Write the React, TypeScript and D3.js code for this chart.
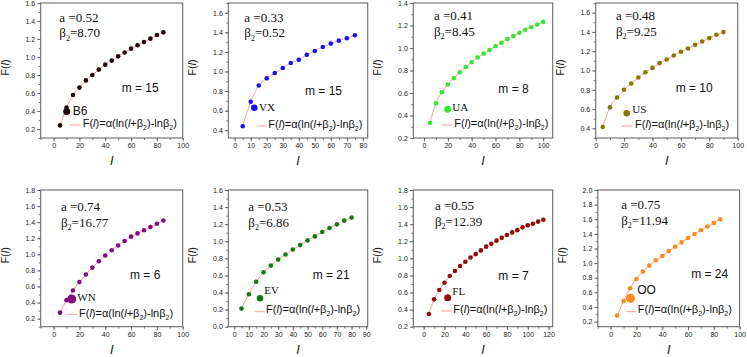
import React, { useEffect, useRef } from "react";
import * as d3 from "d3";

// l values and F(l)
const lB6 = [5, 10, 15, 20, 25, 30, 35, 40, 45, 50, 55, 60, 65, 70, 75, 80, 85];
const fB6 = [0.24, 0.437, 0.578, 0.66, 0.74, 0.8, 0.86, 0.915, 0.96, 1.007, 1.05, 1.093, 1.13, 1.167, 1.204, 1.244, 1.274];

const lVX = [5, 10, 15, 20, 25, 30, 35, 40, 45, 50, 55, 60, 65, 70, 75];
const fVX = [0.44, 0.69, 0.856, 0.93, 0.985, 1.036, 1.087, 1.12, 1.17, 1.21, 1.25, 1.285, 1.315, 1.34, 1.37];

const lUA = [5, 10, 15, 20, 25, 30, 35, 40, 45, 50, 55, 60, 65, 70, 75, 80, 85, 90, 95, 100];
const fUA = [0.335, 0.509, 0.606, 0.676, 0.732, 0.785, 0.83, 0.874, 0.915, 0.95, 0.982, 1.015, 1.047, 1.08, 1.106, 1.135, 1.162, 1.185, 1.209, 1.232];

const lUS = [5, 10, 15, 20, 25, 30, 35, 40, 45, 50, 55, 60, 65, 70, 75, 80, 85, 90];
const fUS = [0.414, 0.618, 0.72, 0.8, 0.865, 0.927, 0.982, 1.027, 1.076, 1.114, 1.156, 1.194, 1.228, 1.266, 1.3, 1.336, 1.37, 1.398];

const lWN = [5, 10, 15, 20, 25, 30, 35, 40, 45, 50, 55, 60, 65, 70, 75, 80, 85];
const fWN = [0.275, 0.43, 0.55, 0.656, 0.75, 0.835, 0.914, 0.985, 1.05, 1.11, 1.165, 1.22, 1.26, 1.3, 1.34, 1.38, 1.42];

const lEV = [5, 10, 15, 20, 25, 30, 35, 40, 45, 50, 55, 60, 65, 70, 75, 80];
const fEV = [0.212, 0.38, 0.526, 0.636, 0.715, 0.786, 0.845, 0.904, 0.955, 1.01, 1.057, 1.108, 1.155, 1.198, 1.242, 1.277];

const lFL = [5, 10, 15, 20, 25, 30, 35, 40, 45, 50, 55, 60, 65, 70, 75, 80, 85, 90, 95, 100, 105, 110, 115];
const fFL = [0.348, 0.52, 0.629, 0.715, 0.793, 0.852, 0.91, 0.96, 1.01, 1.05, 1.093, 1.137, 1.17, 1.207, 1.24, 1.273, 1.304, 1.33, 1.363, 1.386, 1.405, 1.43, 1.452];

const lOO = [5, 10, 15, 20, 25, 30, 35, 40, 45, 50, 55, 60, 65, 70, 75, 80, 85];
const fOO = [0.282, 0.48, 0.655, 0.783, 0.883, 0.965, 1.038, 1.097, 1.166, 1.225, 1.284, 1.343, 1.398, 1.45, 1.5, 1.55, 1.6];

const names = ["B6", "VX", "UA", "US", "WN", "EV", "FL", "OO"];
const alphas = ["0.52", "0.33", "0.41", "0.48", "0.74", "0.53", "0.55", "0.75"];
const betas = ["8.70", "0.52", "8.45", "9.25", "16.77", "6.86", "12.39", "11.94"];
const ms = ["15", "15", "8", "10", "6", "21", "7", "24"];
const series = [
  [lB6, fB6], [lVX, fVX], [lUA, fUA], [lUS, fUS],
  [lWN, fWN], [lEV, fEV], [lFL, fFL], [lOO, fOO],
];
const xDomains = [[-10, 100], [-4, 83], [-9, 108], [0, 100], [-10, 100], [-4, 91], [-10, 124], [-10, 100]];
const yDomains = [[0.1, 1.6], [0.32, 1.7], [0.2, 1.4], [0.3, 1.7], [0.1, 1.8], [0, 1.6], [0.2, 1.8], [0.13, 2.0]];
const xSteps = [20, 10, 20, 20, 20, 10, 20, 20];

const colors = ["#1c0808", "#1414f0", "#33e833", "#877600", "#820a82", "#107a10", "#930b0b", "#ff8a1c"];
const serifName = [false, true, true, true, true, true, true, false];
const fitColor = "#ff9c9c";

// plot boxes and text offsets (relative to plot box)
const layout = [
  { x: 40.7, y: 3, w: 142, h: 135, a: [18.6, 18.6], m: [81, 88.6], dot: [26, 108.6, 3.5], nm: [32, 112], ln: [29.3, 39.3, 122], ft: [42, 124.3] },
  { x: 228.3, y: 3, w: 139.4, h: 135, a: [16, 18.7], m: [76.7, 92], dot: [26, 104.7, 3.3], nm: [30.7, 108], ln: [28.4, 38.4, 123], ft: [40, 125.3] },
  { x: 413.3, y: 3, w: 139.4, h: 135, a: [20.7, 17], m: [85, 89.7], dot: [34.4, 106.3, 3.5], nm: [39, 108], ln: [28.4, 38.4, 122], ft: [41, 124.3] },
  { x: 595.7, y: 3, w: 142, h: 135, a: [20.3, 17], m: [80, 88.7], dot: [31, 110.3, 3.3], nm: [36.6, 109.7], ln: [26, 36.6, 123], ft: [39.3, 125.3] },
  { x: 40.7, y: 190, w: 142, h: 136.7, a: [20.3, 21], m: [89.3, 89], dot: [31, 109, 4.5], nm: [36.6, 111], ln: [26, 36.6, 124.3], ft: [38.3, 126.7] },
  { x: 228.3, y: 190, w: 139.4, h: 136.7, a: [20, 21], m: [84.4, 89], dot: [31.7, 108.3, 3.3], nm: [36, 104.3], ln: [26.7, 36.7, 121.7], ft: [37.7, 123.3] },
  { x: 413.3, y: 190, w: 139.4, h: 136.7, a: [21.7, 20], m: [85, 90], dot: [34.4, 107.7, 3.5], nm: [39, 105], ln: [28.4, 38.4, 121], ft: [40, 123.3] },
  { x: 597.8, y: 190, w: 141.8, h: 136.7, a: [23.4, 19], m: [93.4, 87.7], dot: [32.7, 108.3, 4.5], nm: [39.4, 104.3], ln: [28.4, 38.4, 121.7], ft: [40, 123.3] },
];

const SANS = "'Liberation Sans', Arial, sans-serif";
const SERIF = "'Liberation Serif', 'Times New Roman', serif";

const App = () => {
  const svgRef = useRef<SVGSVGElement>(null);

  useEffect(() => {
    const svg = d3.select(svgRef.current);
    svg.selectAll("*").remove();

    series.forEach(([ls, fs], i) => {
      const b = layout[i];
      const g = svg.append("g").attr("transform", `translate(${b.x},${b.y})`);
      const x = d3.scaleLinear().domain(xDomains[i]).range([0, b.w]);
      const y = d3.scaleLinear().domain(yDomains[i]).range([b.h, 0]);

      const xs = xSteps[i];
      const [x0, x1] = xDomains[i];
      const [y0, y1] = yDomains[i];
      const xMajor = d3.range(Math.ceil(x0 / xs) * xs, x1 + 1e-6, xs);
      const xMinor = d3.range(Math.ceil(x0 / (xs / 2)) * (xs / 2), x1 + 1e-6, xs / 2);
      const yMajor = d3.range(Math.ceil(y0 / 0.2 - 1e-6), Math.floor(y1 / 0.2 + 1e-6) + 1).map((k) => k * 0.2);
      const yMinor = d3.range(Math.ceil(y0 / 0.1 - 1e-6), Math.floor(y1 / 0.1 + 1e-6) + 1).map((k) => k * 0.1);

      // minor ticks
      g.append("g")
        .attr("transform", `translate(0,${b.h})`)
        .call(d3.axisBottom(x).tickValues(xMinor).tickSize(2).tickSizeOuter(0).tickFormat(() => ""));
      g.append("g")
        .call(d3.axisLeft(y).tickValues(yMinor).tickSize(2).tickSizeOuter(0).tickFormat(() => ""));

      // major ticks
      const xa = g.append("g")
        .attr("transform", `translate(0,${b.h})`)
        .call(d3.axisBottom(x).tickValues(xMajor).tickSize(3.5).tickSizeOuter(0).tickPadding(2).tickFormat(d3.format("d")));
      const ya = g.append("g")
        .call(d3.axisLeft(y).tickValues(yMajor).tickSize(3.5).tickSizeOuter(0).tickPadding(2).tickFormat(d3.format(".1f")));

      g.selectAll(".domain").remove();
      g.selectAll(".tick line").attr("stroke", "#555").attr("stroke-width", 0.8);
      [xa, ya].forEach((ax) =>
        ax.selectAll("text").attr("font-family", SANS).attr("font-size", 7).attr("fill", "#222")
      );

      g.append("rect")
        .attr("width", b.w)
        .attr("height", b.h)
        .attr("fill", "none")
        .attr("stroke", "#6a6a6a")
        .attr("stroke-width", 1.1);

      // fit curve drawn through the read values
      const pts = ls.map((l, k) => [l, fs[k]] as [number, number]);
      g.append("path")
        .datum(pts)
        .attr("fill", "none")
        .attr("stroke", fitColor)
        .attr("stroke-width", 1)
        .attr("d", d3.line<[number, number]>().x((d) => x(d[0])).y((d) => y(d[1])).curve(d3.curveMonotoneX));

      g.selectAll(".pt")
        .data(pts)
        .enter()
        .append("circle")
        .attr("cx", (d) => x(d[0]))
        .attr("cy", (d) => y(d[1]))
        .attr("r", 2.3)
        .attr("fill", colors[i]);

      // parameter text
      g.append("text")
        .attr("x", b.a[0])
        .attr("y", b.a[1])
        .attr("font-family", SERIF)
        .attr("font-size", 13)
        .attr("fill", "#111")
        .text(`a =${alphas[i]}`);
      const bt = g.append("text")
        .attr("x", b.a[0])
        .attr("y", b.a[1] + 15.5)
        .attr("font-family", SERIF)
        .attr("font-size", 13)
        .attr("fill", "#111");
      bt.append("tspan").text("β");
      bt.append("tspan").attr("font-size", 8).attr("dy", 3.5).text("2");
      bt.append("tspan").attr("dy", -3.5).text(`=${betas[i]}`);

      g.append("text")
        .attr("x", b.m[0])
        .attr("y", b.m[1])
        .attr("font-family", SANS)
        .attr("font-size", 12)
        .attr("fill", "#111")
        .text(`m = ${ms[i]}`);

      // legend
      g.append("circle")
        .attr("cx", b.dot[0])
        .attr("cy", b.dot[1])
        .attr("r", b.dot[2])
        .attr("fill", colors[i]);
      g.append("text")
        .attr("x", b.nm[0])
        .attr("y", b.nm[1])
        .attr("font-family", serifName[i] ? SERIF : SANS)
        .attr("font-size", serifName[i] ? 11 : 12)
        .attr("fill", "#111")
        .text(names[i]);
      g.append("line")
        .attr("x1", b.ln[0])
        .attr("x2", b.ln[1])
        .attr("y1", b.ln[2])
        .attr("y2", b.ln[2])
        .attr("stroke", fitColor)
        .attr("stroke-width", 1);
      const ft = g.append("text")
        .attr("x", b.ft[0])
        .attr("y", b.ft[1])
        .attr("font-family", SANS)
        .attr("font-size", 11)
        .attr("fill", "#111");
      ft.append("tspan").text("F(");
      ft.append("tspan").attr("font-style", "italic").text("l");
      ft.append("tspan").text(")=α(ln(");
      ft.append("tspan").attr("font-style", "italic").text("l");
      ft.append("tspan").text("+β");
      ft.append("tspan").attr("font-size", 7).attr("dy", 3).text("2");
      ft.append("tspan").attr("dy", -3).text(")-lnβ");
      ft.append("tspan").attr("font-size", 7).attr("dy", 3).text("2");
      ft.append("tspan").attr("dy", -3).text(")");

      // axis titles
      const yl = g.append("text")
        .attr("transform", `translate(-32,${b.h / 2 - 3}) rotate(-90)`)
        .attr("text-anchor", "middle")
        .attr("font-family", SANS)
        .attr("font-size", 11)
        .attr("fill", "#111");
      yl.append("tspan").text("F(");
      yl.append("tspan").attr("font-style", "italic").text("l");
      yl.append("tspan").text(")");

      g.append("text")
        .attr("x", b.w / 2)
        .attr("y", b.h + 27)
        .attr("text-anchor", "middle")
        .attr("font-family", SANS)
        .attr("font-style", "italic")
        .attr("font-size", 13)
        .attr("fill", "#111")
        .text("l");
    });
  }, []);

  return (
    <svg
      ref={svgRef}
      width={747}
      height={357}
      style={{ position: "absolute", left: 0, top: 0, background: "#fff" }}
    ></svg>
  );
};

export default App;
